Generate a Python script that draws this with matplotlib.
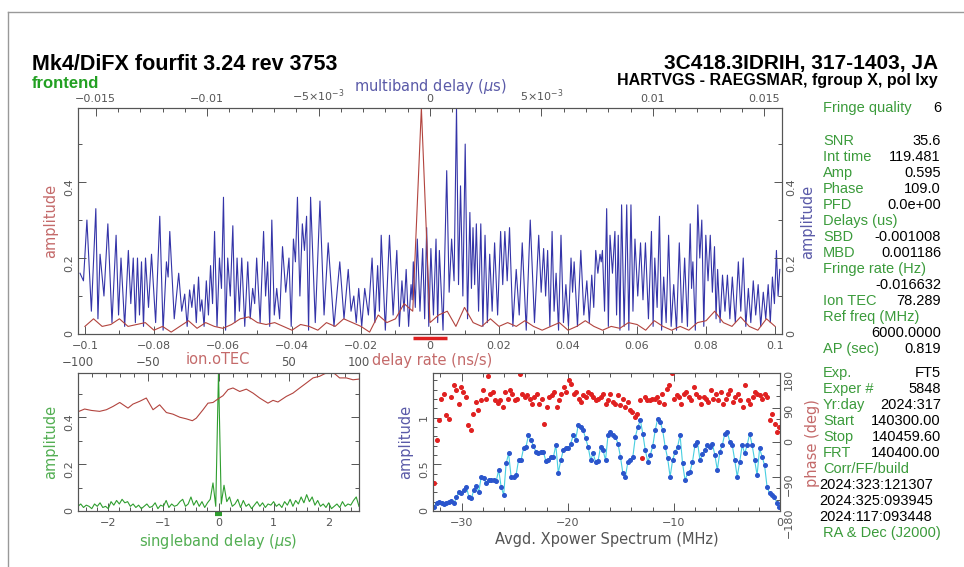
import numpy as np
import matplotlib
matplotlib.use('Agg')
import matplotlib.pyplot as plt
from matplotlib.lines import Line2D
from matplotlib.ticker import MultipleLocator, FixedLocator, FixedFormatter, FuncFormatter

# ---- data ----

# multiband delay amplitude: peak positions (ns) and heights, troughs in between
mbd_peak_ns = [-15.71, -15.40, -15.00, -14.81, -14.46, -14.09, -13.87, -13.54, -13.32, -13.13,
               -12.95, -12.77, -12.50, -12.13, -11.83, -11.68, -11.28, -11.01, -10.79, -10.59,
               -10.39, -10.24, -10.04, -9.85, -9.67, -9.45, -9.27, -9.08, -8.85, -8.66,
               -8.45, -8.18, -7.96, -7.78, -7.47, -7.29, -7.10, -6.88, -6.62, -6.33,
               -6.13, -5.95, -5.73, -5.54, -5.36, -4.94, -4.57, -4.05, -3.67, -3.42,
               -3.20, -2.93, -2.60, -2.35, -2.19, -1.82, -1.49, -1.26, -1.07, -0.85,
               -0.75, -0.57, -0.33, -0.15, 0.04, 0.27, 0.42, 0.75, 0.97, 1.19,
               1.37, 1.58, 1.79, 1.93, 2.08, 2.28, 2.47, 2.68, 2.90, 3.17,
               3.36, 3.57, 3.87, 4.14, 4.50, 4.88, 5.10, 5.28, 5.48, 5.66,
               5.88, 6.10, 6.33, 6.47, 6.77, 7.04, 7.26, 7.44, 7.63, 7.74,
               7.93, 8.08, 8.30, 8.45, 8.60, 8.83, 9.02, 9.20, 9.45, 9.67,
               9.94, 10.09, 10.30, 10.49, 10.71, 10.94, 11.19, 11.43, 11.68, 11.80,
               12.02, 12.20, 12.38, 12.58, 12.77, 12.91, 13.13, 13.35, 13.57, 13.84,
               14.06, 14.29, 14.51, 14.73, 14.96, 15.18, 15.37, 15.55, 15.70]
mbd_peak_amp = [0.16, 0.30, 0.33, 0.21, 0.29, 0.26, 0.20, 0.22, 0.20, 0.20,
                0.19, 0.20, 0.21, 0.31, 0.19, 0.27, 0.16, 0.105, 0.116, 0.13,
                0.15, 0.09, 0.14, 0.18, 0.27, 0.20, 0.36, 0.20, 0.285, 0.20,
                0.20, 0.19, 0.12, 0.20, 0.27, 0.19, 0.30, 0.12, 0.23, 0.20,
                0.25, 0.36, 0.29, 0.31, 0.36, 0.35, 0.24, 0.19, 0.17, 0.10,
                0.12, 0.12, 0.20, 0.18, 0.26, 0.26, 0.22, 0.14, 0.17, 0.13,
                0.19, 0.25, 0.225, 0.28, 0.225, 0.25, 0.22, 0.43, 0.25, 0.595,
                0.39, 0.50, 0.32, 0.28, 0.29, 0.29, 0.26, 0.21, 0.24, 0.27,
                0.27, 0.28, 0.17, 0.24, 0.30, 0.26, 0.225, 0.22, 0.27, 0.16,
                0.26, 0.13, 0.20, 0.19, 0.22, 0.14, 0.155, 0.22, 0.21, 0.22,
                0.33, 0.26, 0.27, 0.26, 0.34, 0.34, 0.34, 0.25, 0.24, 0.24,
                0.27, 0.20, 0.31, 0.15, 0.26, 0.13, 0.24, 0.20, 0.29, 0.19,
                0.34, 0.30, 0.26, 0.26, 0.23, 0.17, 0.155, 0.155, 0.15, 0.19,
                0.20, 0.12, 0.14, 0.13, 0.11, 0.13, 0.15, 0.22, 0.17]
mbd_trough_amp = [0.14, 0.06, 0.04, 0.10, 0.03, 0.05, 0.02, 0.08, 0.03, 0.05,
                  0.02, 0.07, 0.03, 0.01, 0.15, 0.04, 0.06, 0.02, 0.07, 0.03,
                  0.06, 0.02, 0.05, 0.08, 0.02, 0.12, 0.01, 0.10, 0.03, 0.06,
                  0.02, 0.04, 0.08, 0.03, 0.10, 0.02, 0.05, 0.04, 0.11, 0.02,
                  0.19, 0.10, 0.22, 0.01, 0.03, 0.05, 0.02, 0.04, 0.06, 0.03,
                  0.02, 0.05, 0.03, 0.06, 0.01, 0.05, 0.02, 0.06, 0.02, 0.09,
                  0.07, 0.06, 0.04, 0.02, 0.05, 0.03, 0.01, 0.11, 0.14, 0.13,
                  0.10, 0.04, 0.12, 0.13, 0.06, 0.02, 0.03, 0.06, 0.05, 0.13,
                  0.14, 0.02, 0.05, 0.01, 0.03, 0.11, 0.10, 0.02, 0.06, 0.01,
                  0.03, 0.02, 0.11, 0.02, 0.05, 0.03, 0.07, 0.16, 0.19, 0.06,
                  0.02, 0.16, 0.05, 0.01, 0.02, 0.01, 0.06, 0.10, 0.09, 0.04,
                  0.02, 0.07, 0.01, 0.03, 0.02, 0.01, 0.03, 0.02, 0.12, 0.01,
                  0.20, 0.02, 0.14, 0.11, 0.04, 0.03, 0.06, 0.04, 0.03, 0.06,
                  0.02, 0.03, 0.05, 0.02, 0.04, 0.03, 0.08, 0.10]

# delay rate amplitude, -0.1 .. 0.1 ns/s in steps of 0.0025
rate_amp = [0.02, 0.04, 0.02, 0.025, 0.04, 0.02, 0.025, 0.03, 0.01, 0.02,
            0.005, 0.02, 0.035, 0.015, 0.03, 0.02, 0.015, 0.025, 0.04, 0.045,
            0.03, 0.025, 0.03, 0.02, 0.01, 0.025, 0.02,
            0.01, 0.03, 0.02, 0.04, 0.03, 0.02, 0.005, 0.05, 0.03, 0.04, 0.08, 0.06,
            0.595,
            0.03, 0.05, 0.06, 0.02, 0.07, 0.03, 0.02, 0.04, 0.02, 0.03, 0.02, 0.035, 0.02,
            0.01, 0.02, 0.03, 0.01, 0.02, 0.035, 0.02, 0.01, 0.02, 0.015,
            0.03, 0.025, 0.01, 0.035, 0.02, 0.01, 0.02, 0.01, 0.03, 0.035,
            0.06, 0.03, 0.02, 0.045, 0.02, 0.01, 0.04, 0.02]
rate_window = [-0.005, 0.005]

# singleband delay amplitude, -2.55 .. 2.55 us in steps of 0.05
sbd_amp = [0.02, 0.03, 0.015, 0.025, 0.02, 0.01, 0.03, 0.02, 0.035, 0.015,
           0.02, 0.01, 0.04, 0.025, 0.045, 0.03, 0.05, 0.035, 0.04, 0.02,
           0.03, 0.015, 0.025, 0.01, 0.02, 0.03, 0.015, 0.02, 0.035, 0.01,
           0.025, 0.02, 0.045, 0.015, 0.03, 0.02, 0.025, 0.04, 0.05, 0.02,
           0.03, 0.06, 0.025, 0.045, 0.02, 0.04, 0.015, 0.035, 0.05, 0.12,
           0.02, 0.595, 0.03, 0.11,
           0.04, 0.06, 0.02, 0.03, 0.05, 0.015, 0.045, 0.02, 0.03, 0.01,
           0.025, 0.04, 0.02, 0.035, 0.015, 0.03, 0.025, 0.04, 0.02, 0.03,
           0.015, 0.04, 0.025, 0.05, 0.02, 0.045, 0.03, 0.06, 0.035, 0.07,
           0.04, 0.06, 0.025, 0.045, 0.02, 0.03, 0.015, 0.035, 0.01, 0.02,
           0.03, 0.015, 0.04, 0.02, 0.03, 0.025, 0.045, 0.06, 0.02]
sbd_window = [-0.07, 0.07]

# ionospheric TEC search amplitude
tec = [-99.3, -95.3, -90.5, -84.6, -79.8, -75.1, -70.3, -64.4, -60.9, -56.1,
       -51.4, -46.6, -41.9, -37.1, -32.4, -27.6, -22.9, -18.6, -15.8, -11.0,
       -7.5, -3.9, -0.4, 3.2, 6.8, 10.3, 15.1, 19.8, 24.6, 29.3,
       35.2, 38.8, 42.3, 48.3, 53.0, 57.8, 62.5, 67.3, 72.0, 75.6,
       79.1, 82.7, 86.2, 91.0, 95.7, 100.0]
tec_amp = [0.426, 0.436, 0.430, 0.426, 0.433, 0.447, 0.464, 0.440, 0.457, 0.469,
           0.483, 0.433, 0.454, 0.421, 0.414, 0.401, 0.394, 0.386, 0.397, 0.433,
           0.461, 0.464, 0.479, 0.493, 0.519, 0.526, 0.511, 0.521, 0.504, 0.483,
           0.461, 0.473, 0.466, 0.490, 0.504, 0.526, 0.547, 0.569, 0.576, 0.587,
           0.593, 0.587, 0.569, 0.569, 0.561, 0.564]
tec_ticks = [-100, -50, 0, 50, 100]
tec_labels = ['\u2212100', '\u221250', '', '50', '100']

# averaged cross-power spectrum
xp_amp = [0.046, 0.089, 0.10, 0.089, 0.075, 0.082, 0.093, 0.11, 0.082, 0.146,
          0.206, 0.189, 0.224, 0.26, 0.153, 0.135, 0.224, 0.267, 0.206, 0.367,
          0.349, 0.295, 0.331, 0.331, 0.331, 0.32, 0.438, 0.26, 0.171, 0.509,
          0.616, 0.367, 0.367, 0.384, 0.544, 0.544, 0.669, 0.687, 0.811, 0.758,
          0.694, 0.633, 0.616, 0.633, 0.633, 0.534, 0.544, 0.58, 0.573, 0.705,
          0.409, 0.544, 0.651, 0.669, 0.669, 0.722, 0.811, 0.765, 0.918, 0.90,
          0.865, 0.776, 0.687, 0.544, 0.616, 0.527, 0.537, 0.687, 0.651, 0.544,
          0.811, 0.847, 0.811, 0.794, 0.722, 0.58, 0.402, 0.367, 0.527, 0.544,
          0.58, 0.794, 0.90, 0.972, 0.829, 0.651, 0.527, 0.598, 0.694, 0.865,
          0.989, 0.954, 0.865, 0.687, 0.562, 0.367, 0.544, 0.633, 0.687, 0.811,
          0.509, 0.331, 0.402, 0.42, 0.527, 0.705, 0.74, 0.544, 0.605, 0.658,
          0.705, 0.687, 0.722, 0.598, 0.438, 0.633, 0.705, 0.829, 0.847, 0.74,
          0.705, 0.544, 0.367, 0.527, 0.705, 0.616, 0.705, 0.829, 0.705, 0.544,
          0.384, 0.669, 0.58, 0.491, 0.26, 0.189, 0.171, 0.153, 0.082, 0.046]
xp_phase = [-108, 5, 57, 113, 126, 70, 61, 118, 150, 135,
            100, 144, 131, 118, 44, 31, 74, 105, 83, 109,
            135, 111, 171, 126, 131, 109, 102, 109, 91, 131,
            113, 135, 126, 109, 113, 178, 126, 118, 122, 113,
            100, 118, 126, 100, 113, 48, 91, 118, 122, 131,
            91, 109, 126, 144, 131, 161, 152, 126, 131, 113,
            105, 122, 118, 131, 126, 118, 109, 113, 118, 126,
            100, 109, 126, 105, 100, 122, 96, 113, 91, 105,
            83, 79, 65, 74, 109, -43, 118, 109, 109, 113,
            111, 118, 105, 126, 100, 139, 148, 180, 113, 122,
            118, 100, 126, 131, 118, 109, 144, 126, 118, 100,
            118, 113, 105, 135, 113, 126, 109, 131, 100, 113,
            126, 135, 105, 118, 126, 109, 91, 148, 109, 100,
            118, 131, 126, 122, 113, 126, 118, 57, 74, 48, 26, 39]

header_left = 'Mk4/DiFX fourfit 3.24 rev 3753'
header_sub = 'frontend'
header_right = '3C418.3IDRIH, 317-1403, JA'
header_right_sub = 'HARTVGS - RAEGSMAR, fgroup X, pol lxy'

info_rows = [
    ('Fringe quality', '6'), 'gap17',
    ('SNR', '35.6'), ('Int time', '119.481'), ('Amp', '0.595'), ('Phase', '109.0'),
    ('PFD', '0.0e+00'), ('Delays (us)', ''), ('SBD', '-0.001008'), ('MBD', '0.001186'),
    ('Fringe rate (Hz)', ''), ('', '-0.016632'), ('Ion TEC', '78.289'),
    ('Ref freq (MHz)', ''), ('', '6000.0000'), ('AP (sec)', '0.819'), 'gap8',
    ('Exp.', 'FT5'), ('Exper #', '5848'), ('Yr:day', '2024:317'), ('Start', '140300.00'),
    ('Stop', '140459.60'), ('FRT', '140400.00'), ('Corr/FF/build', ''),
    'black:2024:323:121307', 'black:2024:325:093945', 'black:2024:117:093448',
    ('RA & Dec (J2000)', ''),
]

# ---- layout ----
W, H = 964, 567
fig = plt.figure(figsize=(W / 100, H / 100), dpi=100)
fig.patch.set_facecolor('white')

def box(x0, y0, x1, y1):
    return [x0 / W, 1 - y1 / H, (x1 - x0) / W, (y1 - y0) / H]

GRAY = '#555555'
BLUE = '#3434a8'
RED = '#b2443e'
GREEN = '#2f9e2f'
LBL_RED = '#c46a6a'
LBL_BLUE = '#5a5aa8'
LBL_GREEN = '#52ae52'
INFO_GREEN = '#3b9b3b'
TF = ['Liberation Sans', 'DejaVu Sans']

def fmt(v, p):
    s = '%g' % round(v, 6)
    if s in ('-0', '0'):
        return '0'
    return s.replace('-', '\u2212')

def style(ax):
    ax.tick_params(which='both', direction='in', color=GRAY, width=0.7,
                   labelsize=8, labelcolor=GRAY, pad=3)
    ax.tick_params(which='major', length=6)
    ax.tick_params(which='minor', length=3)
    for s in ax.spines.values():
        s.set_color(GRAY)
        s.set_linewidth(0.8)

# frame of the page
fig.add_artist(Line2D([8 / W, 8 / W], [1 - 12 / H, 0], color='#999999', lw=1.0))
fig.add_artist(Line2D([8 / W, 1], [1 - 12 / H, 1 - 12 / H], color='#999999', lw=1.0))

# ---- top panel: delay rate (bottom) and multiband delay (top) ----
ax = fig.add_axes(box(78, 108, 782, 334))
axt = ax.twiny()
pk_x = np.array(mbd_peak_ns) / 1000.0
xs = np.empty(2 * len(pk_x) - 1)
ys = np.empty_like(xs)
xs[0::2] = pk_x
xs[1::2] = 0.5 * (pk_x[:-1] + pk_x[1:])
ys[0::2] = mbd_peak_amp
ys[1::2] = mbd_trough_amp
axt.plot(xs, ys, color=BLUE, lw=0.8)
axt.set_xlim(-0.0158, 0.0158)

rate_x = np.linspace(-0.1, 0.1, len(rate_amp))
ax.plot(rate_x, rate_amp, color=RED, lw=0.8)
ax.plot(rate_window, [-0.011, -0.011], color='#dd2020', lw=2.5,
        solid_capstyle='butt', clip_on=False)
ax.set_zorder(axt.get_zorder() + 1)
ax.patch.set_visible(False)
ax.set_xlim(-0.102, 0.102)
ax.set_ylim(0, 0.595)

style(ax)
style(axt)
ax.xaxis.set_major_locator(MultipleLocator(0.02))
ax.xaxis.set_minor_locator(MultipleLocator(0.01))
ax.xaxis.set_major_formatter(FuncFormatter(fmt))
ax.yaxis.set_major_locator(MultipleLocator(0.2))
ax.yaxis.set_minor_locator(MultipleLocator(0.1))
ax.yaxis.set_major_formatter(FuncFormatter(fmt))
ax.tick_params(axis='x', top=False, pad=5)
ax.tick_params(axis='y', which='both', left=True, right=True, labelright=True, labelrotation=90)
axt.tick_params(axis='x', which='both', top=True, bottom=False)
mbd_ticks = [-0.015, -0.01, -0.005, 0, 0.005, 0.01, 0.015]
axt.xaxis.set_major_locator(FixedLocator(mbd_ticks))
axt.xaxis.set_major_formatter(FixedFormatter(
    ['\u22120.015', '\u22120.01', r'$-5{\times}10^{-3}$', '0',
     r'$5{\times}10^{-3}$', '0.01', '0.015']))
axt.xaxis.set_minor_locator(MultipleLocator(0.001))
fig.text(430 / W, 1 - 86 / H, r'multiband delay ($\mu$s)', color=LBL_BLUE,
         fontsize=10.5, ha='center', va='center')
ax.set_ylabel('amplitude', color=LBL_RED, fontsize=10.5, labelpad=4)
fig.text(808 / W, 1 - 222 / H, 'amplitude', color=LBL_BLUE, fontsize=10.5,
         rotation=90, ha='center', va='center')
fig.text(432 / W, 1 - 361 / H, 'delay rate (ns/s)', color=LBL_RED, fontsize=10.5,
         ha='center', va='center')

# ---- lower left: singleband delay and ion TEC ----
ax2 = fig.add_axes(box(78, 373, 359, 511))
ax2t = ax2.twiny()
sbd_x = np.linspace(-2.55, 2.55, len(sbd_amp))
ax2.plot(sbd_x, sbd_amp, color=GREEN, lw=0.8)
ax2.plot(sbd_window, [-0.011, -0.011], color=GREEN, lw=3,
         solid_capstyle='butt', clip_on=False)
ax2t.plot(tec, tec_amp, color=RED, lw=0.8)
ax2.set_xlim(-2.55, 2.55)
ax2.set_ylim(0, 0.59)
ax2t.set_xlim(-100, 100)
style(ax2)
style(ax2t)
ax2.xaxis.set_major_locator(MultipleLocator(1))
ax2.xaxis.set_minor_locator(MultipleLocator(0.2))
ax2.xaxis.set_major_formatter(FuncFormatter(fmt))
ax2.yaxis.set_major_locator(MultipleLocator(0.2))
ax2.yaxis.set_minor_locator(MultipleLocator(0.1))
ax2.yaxis.set_major_formatter(FuncFormatter(fmt))
ax2.tick_params(axis='x', top=False, pad=5)
ax2.tick_params(axis='y', which='both', left=True, right=True, labelrotation=90)
ax2t.xaxis.set_major_locator(FixedLocator(tec_ticks))
ax2t.xaxis.set_major_formatter(FixedFormatter(tec_labels))
ax2t.xaxis.set_minor_locator(MultipleLocator(10))
ax2t.tick_params(axis='x', which='both', top=True, bottom=False, labelsize=8.5,
                 labeltop=True)
ax2.set_xlabel(r'singleband delay ($\mu$s)', color=LBL_GREEN, fontsize=10.5, labelpad=3)
ax2.set_ylabel('amplitude', color=LBL_GREEN, fontsize=10.5, labelpad=4)
fig.text(218 / W, 1 - 360 / H, 'ion.oTEC', color=LBL_RED, fontsize=10.5,
         ha='center', va='center')

# ---- lower right: averaged cross power spectrum ----
ax3 = fig.add_axes(box(433, 373, 780, 511))
ax3r = ax3.twinx()
xp_f = np.linspace(-32.6, -0.05, len(xp_amp))
ph_f = np.linspace(-32.6, -0.05, len(xp_phase))
ax3.plot(xp_f, xp_amp, color='#48cfe0', lw=0.8, zorder=2)
ax3.plot(xp_f, xp_amp, ls='none', marker='o', ms=2.6, color='#2a55cc', zorder=3)
ax3r.plot(ph_f, xp_phase, ls='none', marker='o', ms=2.6, color='#e02020')
ax3.set_xlim(-32.7, 0)
ax3.set_ylim(0, 1.477)
ax3r.set_ylim(-180, 180)
style(ax3)
style(ax3r)
ax3.xaxis.set_major_locator(MultipleLocator(10))
ax3.xaxis.set_minor_locator(MultipleLocator(2))
ax3.xaxis.set_major_formatter(FuncFormatter(fmt))
ax3.yaxis.set_major_locator(MultipleLocator(0.5))
ax3.yaxis.set_minor_locator(MultipleLocator(0.1))
ax3.yaxis.set_major_formatter(FuncFormatter(fmt))
ax3.tick_params(axis='x', which='both', top=True)
ax3.tick_params(axis='x', pad=5)
ax3.tick_params(axis='y', labelrotation=90)
ax3r.yaxis.set_major_locator(MultipleLocator(90))
ax3r.yaxis.set_minor_locator(MultipleLocator(30))
ax3r.yaxis.set_major_formatter(FuncFormatter(fmt))
ax3r.tick_params(axis='y', labelrotation=90)
ax3.set_xlabel('Avgd. Xpower Spectrum (MHz)', color=GRAY, fontsize=10.5, labelpad=3)
ax3.set_ylabel('amplitude', color=LBL_BLUE, fontsize=10.5, labelpad=4)
fig.text(812 / W, 1 - 443 / H, 'phase (deg)', color=LBL_RED, fontsize=10.5,
         rotation=90, ha='center', va='center')

# ---- headers ----
fig.text(32 / W, 1 - 70 / H, header_left, family=TF, fontsize=15.5,
         fontweight='bold', va='baseline')
fig.text(32 / W, 1 - 88 / H, header_sub, family=TF, fontsize=12,
         fontweight='bold', color='#22a022', va='baseline')
fig.text(938 / W, 1 - 69 / H, header_right, family=TF, fontsize=15,
         fontweight='bold', ha='right', va='baseline')
fig.text(938 / W, 1 - 85 / H, header_right_sub, family=TF, fontsize=11.5,
         fontweight='bold', ha='right', va='baseline')

# ---- info column ----
y = 108
for row in info_rows:
    if isinstance(row, str) and row.startswith('gap'):
        y += int(row[3:])
        continue
    if isinstance(row, str):
        fig.text(819 / W, 1 - y / H, row.split(':', 1)[1], family=TF, fontsize=10.5,
                 color='black', va='center')
    else:
        label, value = row
        if label:
            fig.text(823 / W, 1 - y / H, label, family=TF, fontsize=10.5,
                     color=INFO_GREEN, va='center')
        if value:
            fig.text(941 / W, 1 - y / H, value, family=TF, fontsize=10.5,
                     color='black', ha='right', va='center')
    y += 16

fig.savefig('out.png', dpi=100)
